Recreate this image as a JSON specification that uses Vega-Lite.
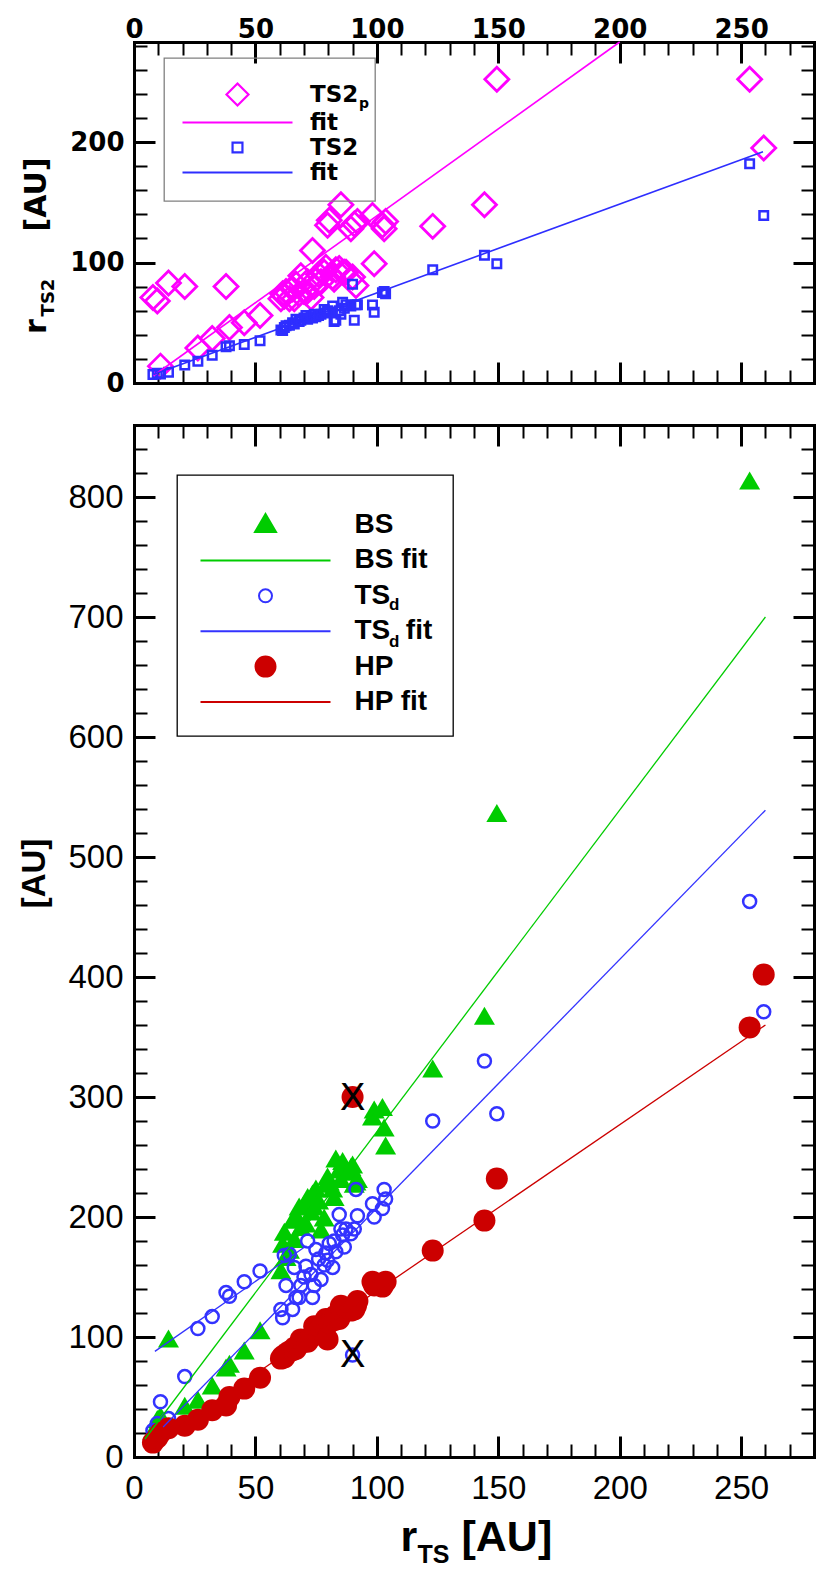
{
  "$schema": "https://vega.github.io/schema/vega-lite/v6.json",
  "background": "white",
  "padding": {"left": 18, "top": 16, "right": 5, "bottom": 5},
  "bounds": "flush",
  "spacing": 42,
  "config": {
    "view": {"stroke": null},
    "axis": {"grid": false, "tickColor": "black", "domainColor": "black", "labelColor": "black", "titleColor": "black", "labelOverlap": false, "labelFlush": false, "domainCap": "square"},
    "legend": {"labelColor": "black", "strokeWidth": 1.3}
  },
  "datasets": {
    "objs": [
      {"r": 7.8, "TS2": 7, "TS2p": 71, "BS": 20, "TSd": 22, "HP": 12},
      {"r": 9.6, "TS2": 8, "TS2p": 68, "BS": 30, "TSd": 28, "HP": 16},
      {"r": 10.9, "TS2": 7.5, "TS2p": 14, "BS": 33, "TSd": 46, "HP": 20},
      {"r": 14.2, "TS2": 9, "TS2p": 83, "BS": 97, "TSd": 32, "HP": 24},
      {"r": 20.9, "TS2": 15, "TS2p": 80, "BS": 41, "TSd": 67, "HP": 26},
      {"r": 26.3, "TS2": 18, "TS2p": 29, "BS": 46, "TSd": 107, "HP": 31},
      {"r": 32.2, "TS2": 23, "TS2p": 37, "BS": 58, "TSd": 117, "HP": 39},
      {"r": 37.9, "TS2": 30, "TS2p": 80, "BS": 73, "TSd": 137, "HP": 43},
      {"r": 39.3, "TS2": 31, "TS2p": 46, "BS": 76, "TSd": 134, "HP": 50},
      {"r": 45.4, "TS2": 32, "TS2p": 50, "BS": 87, "TSd": 146, "HP": 57},
      {"r": 51.9, "TS2": 35, "TS2p": 56, "BS": 104, "TSd": 155, "HP": 66},
      {"r": 60.5, "TS2": 44, "TS2p": 70, "BS": 154, "TSd": 123, "HP": 82},
      {"r": 61.2, "TS2": 43.5, "TS2p": 74, "BS": 176, "TSd": 116, "HP": 84},
      {"r": 61.9, "TS2": 46, "TS2p": 72, "BS": 186, "TSd": 168, "HP": 83},
      {"r": 62.6, "TS2": 47.6, "TS2p": 76, "BS": 165, "TSd": 143, "HP": 86},
      {"r": 64.0, "TS2": 48, "TS2p": 70, "BS": 171, "TSd": 169, "HP": 88},
      {"r": 65.3, "TS2": 50, "TS2p": 78, "BS": 196, "TSd": 123, "HP": 89},
      {"r": 66.0, "TS2": 49, "TS2p": 70, "BS": 180, "TSd": 158, "HP": 91},
      {"r": 66.7, "TS2": 53, "TS2p": 82, "BS": 200, "TSd": 133, "HP": 90},
      {"r": 68.0, "TS2": 51, "TS2p": 74, "BS": 207, "TSd": 133, "HP": 94},
      {"r": 68.7, "TS2": 52, "TS2p": 89, "BS": 190, "TSd": 143, "HP": 98},
      {"r": 70.0, "TS2": 54, "TS2p": 76, "BS": 209, "TSd": 150, "HP": 96},
      {"r": 70.8, "TS2": 56, "TS2p": 75, "BS": 193, "TSd": 159, "HP": 97},
      {"r": 71.5, "TS2": 53, "TS2p": 84, "BS": 215, "TSd": 180, "HP": 96},
      {"r": 72.9, "TS2": 55, "TS2p": 71, "BS": 203, "TSd": 152, "HP": 100},
      {"r": 73.5, "TS2": 54, "TS2p": 110, "BS": 218, "TSd": 133, "HP": 101},
      {"r": 74.2, "TS2": 57, "TS2p": 80, "BS": 207, "TSd": 143, "HP": 109},
      {"r": 74.9, "TS2": 55, "TS2p": 86, "BS": 222, "TSd": 173, "HP": 104},
      {"r": 76.0, "TS2": 56, "TS2p": 90, "BS": 212, "TSd": 165, "HP": 106},
      {"r": 77.0, "TS2": 57, "TS2p": 84, "BS": 188, "TSd": 148, "HP": 108},
      {"r": 78.3, "TS2": 61, "TS2p": 92, "BS": 198, "TSd": 160, "HP": 112},
      {"r": 79.0, "TS2": 58, "TS2p": 96, "BS": 226, "TSd": 170, "HP": 115},
      {"r": 79.7, "TS2": 60, "TS2p": 131, "BS": 232, "TSd": 164, "HP": 98},
      {"r": 80.4, "TS2": 59, "TS2p": 135, "BS": 228, "TSd": 178, "HP": 112},
      {"r": 81.8, "TS2": 64, "TS2p": 88, "BS": 222, "TSd": 158, "HP": 116},
      {"r": 82.4, "TS2": 51, "TS2p": 86, "BS": 215, "TSd": 180, "HP": 114},
      {"r": 83.1, "TS2": 52, "TS2p": 94, "BS": 247, "TSd": 171, "HP": 118},
      {"r": 84.5, "TS2": 60, "TS2p": 95, "BS": 238, "TSd": 202, "HP": 115},
      {"r": 85.2, "TS2": 57, "TS2p": 148, "BS": 230, "TSd": 190, "HP": 126},
      {"r": 85.9, "TS2": 67, "TS2p": 92, "BS": 245, "TSd": 185, "HP": 120},
      {"r": 86.6, "TS2": 62, "TS2p": 92, "BS": 241, "TSd": 175, "HP": 122},
      {"r": 87.3, "TS2": 65, "TS2p": 92, "BS": 236, "TSd": 190, "HP": 124},
      {"r": 89.3, "TS2": 64, "TS2p": 128, "BS": 240, "TSd": 186, "HP": 122},
      {"r": 90.0, "TS2": 82, "TS2p": 88, "BS": 242, "TSd": 85, "HP": 300},
      {"r": 90.7, "TS2": 52, "TS2p": 132, "BS": 226, "TSd": 190, "HP": 123},
      {"r": 91.4, "TS2": 65, "TS2p": 81, "BS": 228, "TSd": 223, "HP": 126},
      {"r": 92.0, "TS2": 65, "TS2p": 134, "BS": 230, "TSd": 201, "HP": 130},
      {"r": 98.2, "TS2": 64.7, "TS2p": 139, "BS": 282, "TSd": 211, "HP": 146},
      {"r": 98.9, "TS2": 58.7, "TS2p": 99, "BS": 288, "TSd": 200, "HP": 143},
      {"r": 102.3, "TS2": 75, "TS2p": 131, "BS": 290, "TSd": 207, "HP": 142},
      {"r": 103.0, "TS2": 76, "TS2p": 128, "BS": 273, "TSd": 223, "HP": 145},
      {"r": 103.6, "TS2": 74, "TS2p": 134, "BS": 258, "TSd": 215, "HP": 146},
      {"r": 123.0, "TS2": 94, "TS2p": 130, "BS": 322, "TSd": 280, "HP": 172},
      {"r": 144.3, "TS2": 106, "TS2p": 148, "BS": 366, "TSd": 330, "HP": 197},
      {"r": 149.4, "TS2": 99, "TS2p": 252, "BS": 535, "TSd": 286, "HP": 232},
      {"r": 253.5, "TS2": 182, "TS2p": 252, "BS": 812, "TSd": 463, "HP": 358},
      {"r": 259.3, "TS2": 139, "TS2p": 195, "TSd": 371, "HP": 402}
    ],
    "fits": [
      {"series": "TS2p fit", "seg": 1, "r": 8, "val": 6},
      {"series": "TS2p fit", "seg": 1, "r": 200, "val": 283},
      {"series": "TS2 fit", "seg": 1, "r": 8, "val": 7},
      {"series": "TS2 fit", "seg": 1, "r": 259, "val": 192},
      {"series": "BS fit", "seg": 1, "r": 4.5, "val": 15},
      {"series": "BS fit", "seg": 1, "r": 260, "val": 700},
      {"series": "TSd fit", "seg": 1, "r": 8.6, "val": 88},
      {"series": "TSd fit", "seg": 1, "r": 71, "val": 176},
      {"series": "TSd fit", "seg": 2, "r": 12, "val": 25},
      {"series": "TSd fit", "seg": 2, "r": 260, "val": 539},
      {"series": "HP fit", "seg": 1, "r": 8, "val": 11},
      {"series": "HP fit", "seg": 1, "r": 260, "val": 360}
    ],
    "xmarks": [
      {"r": 90, "val": 298},
      {"r": 90, "val": 84}
    ]
  },
  "resolve": {"scale": {"stroke": "independent", "fill": "independent", "shape": "independent", "opacity": "independent"}},
  "vconcat": [
    {
      "width": 680,
      "height": 341,
      "resolve": {"axis": {"x": "independent", "y": "independent"}},
      "layer": [
        {
          "data": {"name": "objs"},
          "transform": [{"fold": ["TS2p"], "as": ["series", "val"]}],
          "mark": {"type": "point", "filled": false, "opacity": 1, "size": 576, "strokeWidth": 2.8},
          "encoding": {
            "x": {"field": "r", "type": "quantitative", "scale": {"domain": [0, 280], "nice": false, "zero": false},
              "axis": {"orient": "top", "values": [0, 50, 100, 150, 200, 250], "tickSize": -21, "tickWidth": 3, "domainWidth": 3, "labelPadding": 21, "labelFont": "DejaVu Sans", "labelFontWeight": "bold", "labelFontSize": 26, "title": null}},
            "y": {"field": "val", "type": "quantitative", "scale": {"domain": [0, 283], "nice": false, "zero": false},
              "axis": {"orient": "left", "values": [0, 100, 200], "tickSize": -21, "tickWidth": 3, "domainWidth": 3, "labelPadding": 31, "labelFont": "DejaVu Sans", "labelFontWeight": "bold", "labelFontSize": 26,
                "title": "r", "titleFont": "DejaVu Sans", "titleFontWeight": "bold", "titleFontSize": 30, "titleAngle": 270, "titleAlign": "center", "titleBaseline": "alphabetic", "titleX": -89, "titleY": 284}},
            "stroke": {"field": "series", "type": "nominal",
              "scale": {"domain": ["TS2p", "TS2p fit", "TS2", "TS2 fit"], "range": ["#ff00ff", "#ff00ff", "#2e2eff", "#2e2eff"]},
              "legend": {"orient": "none", "legendX": 30, "legendY": 16, "padding": 16, "title": "\u00a0", "titleFontSize": 5, "titlePadding": 3, "strokeColor": "#808080", "rowPadding": 0,
                "symbolSize": 484, "symbolStrokeWidth": 2.2, "symbolOffset": 45, "symbolFillColor": "transparent", "labelOffset": 60,
                "labelFont": "DejaVu Sans", "labelFontWeight": "bold", "labelFontSize": 23,
                "labelExpr": "datum.label == 'TS2p' ? 'TS2\u00a0\u00a0' : (datum.label == 'TS2p fit' || datum.label == 'TS2 fit') ? '\u00a0fit' : datum.label"}},
            "shape": {"field": "series", "type": "nominal", "legend": {"title": "\u00a0"},
              "scale": {"domain": ["TS2p", "TS2p fit", "TS2", "TS2 fit"], "range": ["M-1,0L0,-1L1,0L0,1Z", "M-5,0H5", "M-0.45,-0.45H0.45V0.45H-0.45Z", "M-5,0H5"]}},
            "opacity": {"field": "series", "type": "nominal",
              "scale": {"type": "ordinal", "domain": ["TS2", "TS2 fit", "TS2p", "TS2p fit"], "range": [1, 1, 1, 1]},
              "legend": {"orient": "none", "legendX": 30, "legendY": 31, "padding": 16, "title": "\u00a0", "titleFontSize": 5, "titlePadding": 3, "rowPadding": 11, "symbolSize": 0, "symbolStrokeWidth": 0, "labelOffset": 165,
                "labelFont": "DejaVu Sans", "labelFontWeight": "bold", "labelFontSize": 14,
                "values": ["TS2p", "TS2p fit", "TS2", "TS2 fit"],
                "labelExpr": "datum.label == 'TS2p' ? 'p' : ''"}}
          }
        },
        {
          "data": {"name": "objs"},
          "transform": [{"fold": ["TS2"], "as": ["series", "val"]}],
          "mark": {"type": "point", "filled": false, "opacity": 1, "size": 356, "strokeWidth": 2.5},
          "encoding": {
            "x": {"field": "r", "type": "quantitative",
              "axis": {"orient": "top", "values": [10, 20, 30, 40, 60, 70, 80, 90, 110, 120, 130, 140, 160, 170, 180, 190, 210, 220, 230, 240, 260, 270], "tickSize": -13, "tickWidth": 2, "domain": false, "labels": false, "title": null}},
            "y": {"field": "val", "type": "quantitative",
              "axis": {"orient": "left", "values": [20, 40, 60, 80, 120, 140, 160, 180, 220, 240, 260, 280], "tickSize": -13, "tickWidth": 2, "domain": false, "labels": false,
                "title": "TS2", "titleFont": "DejaVu Sans", "titleFontWeight": "bold", "titleFontSize": 18, "titleAngle": 270, "titleAlign": "center", "titleBaseline": "alphabetic", "titleX": -81, "titleY": 255}},
            "stroke": {"field": "series", "type": "nominal", "legend": {"title": "\u00a0"}},
            "shape": {"field": "series", "type": "nominal", "legend": {"title": "\u00a0"}}
          }
        },
        {
          "data": {"name": "fits"},
          "transform": [{"filter": "datum.series == 'TS2p fit'"}],
          "mark": {"type": "line", "strokeWidth": 1.6},
          "encoding": {
            "x": {"field": "r", "type": "quantitative",
              "axis": {"orient": "bottom", "values": [0, 50, 100, 150, 200, 250], "tickSize": -21, "tickWidth": 3, "domainWidth": 3, "labels": false, "title": null}},
            "y": {"field": "val", "type": "quantitative",
              "axis": {"orient": "right", "values": [0, 100, 200], "tickSize": -21, "tickWidth": 3, "domainWidth": 3, "labels": false,
                "title": "[AU]", "titleFont": "DejaVu Sans", "titleFontWeight": "bold", "titleFontSize": 30, "titleAngle": 270, "titleAlign": "center", "titleBaseline": "alphabetic", "titleX": -769, "titleY": 152}},
            "stroke": {"field": "series", "type": "nominal", "legend": {"title": "\u00a0"}}
          }
        },
        {
          "data": {"name": "fits"},
          "transform": [{"filter": "datum.series == 'TS2 fit'"}],
          "mark": {"type": "line", "strokeWidth": 1.6},
          "encoding": {
            "x": {"field": "r", "type": "quantitative",
              "axis": {"orient": "bottom", "values": [10, 20, 30, 40, 60, 70, 80, 90, 110, 120, 130, 140, 160, 170, 180, 190, 210, 220, 230, 240, 260, 270], "tickSize": -13, "tickWidth": 2, "domain": false, "labels": false, "title": null}},
            "y": {"field": "val", "type": "quantitative",
              "axis": {"orient": "right", "values": [20, 40, 60, 80, 120, 140, 160, 180, 220, 240, 260, 280], "tickSize": -13, "tickWidth": 2, "domain": false, "labels": false, "title": null}},
            "stroke": {"field": "series", "type": "nominal", "legend": {"title": "\u00a0"}}
          }
        }
      ]
    },
    {
      "width": 680,
      "height": 1032,
      "resolve": {"axis": {"x": "independent", "y": "independent"}},
      "layer": [
        {
          "data": {"name": "objs"},
          "transform": [{"fold": ["BS"], "as": ["series", "val"]}],
          "mark": {"type": "point", "opacity": 1, "size": 400, "strokeWidth": 0},
          "encoding": {
            "x": {"field": "r", "type": "quantitative", "scale": {"domain": [0, 280], "nice": false, "zero": false},
              "axis": {"orient": "bottom", "values": [0, 50, 100, 150, 200, 250], "tickSize": -21, "tickWidth": 3, "domainWidth": 3, "labelPadding": 36, "labelFont": "Liberation Sans", "labelFontSize": 33,
                "title": "r", "titleFont": "Liberation Sans", "titleFontWeight": "bold", "titleFontSize": 43, "titleAlign": "left", "titleBaseline": "alphabetic", "titleX": 266, "titleY": 93}},
            "y": {"field": "val", "type": "quantitative", "scale": {"domain": [0, 860], "nice": false, "zero": false},
              "axis": {"orient": "left", "values": [0, 100, 200, 300, 400, 500, 600, 700, 800], "tickSize": -21, "tickWidth": 3, "domainWidth": 3, "labelPadding": 32, "labelFont": "Liberation Sans", "labelFontSize": 33,
                "title": "[AU]", "titleFont": "Liberation Sans", "titleFontWeight": "bold", "titleFontSize": 33, "titleAngle": 270, "titleAlign": "center", "titleBaseline": "alphabetic", "titleX": -90, "titleY": 448}},
            "stroke": {"field": "series", "type": "nominal",
              "scale": {"domain": ["BS", "BS fit", "TSd", "TSd fit", "HP", "HP fit"], "range": ["#00cc00", "#00cc00", "#3333ff", "#3333ff", "#cc0000", "#cc0000"]},
              "legend": {"orient": "none", "legendX": 43, "legendY": 50, "padding": 20, "title": "\u00a0", "titleFontSize": 8, "titlePadding": 8, "strokeColor": "black", "rowPadding": 7.4,
                "symbolSize": 400, "symbolStrokeWidth": 2, "symbolOffset": 54.5, "labelOffset": 75,
                "labelFont": "Liberation Sans", "labelFontWeight": "bold", "labelFontSize": 28,
                "labelExpr": "datum.label == 'TSd' ? 'TS' : datum.label == 'TSd fit' ? 'TS\u00a0\u00a0fit' : datum.label"}},
            "fill": {"field": "series", "type": "nominal", "legend": {"title": "\u00a0"},
              "scale": {"domain": ["BS", "BS fit", "TSd", "TSd fit", "HP", "HP fit"], "range": ["#00cc00", "transparent", "transparent", "transparent", "#cc0000", "transparent"]}},
            "shape": {"field": "series", "type": "nominal", "legend": {"title": "\u00a0"},
              "scale": {"domain": ["BS", "BS fit", "TSd", "TSd fit", "HP", "HP fit"], "range": ["M0,-1.1L1.05,0.7L-1.05,0.7Z", "M-6.5,0H6.5", "M0.65,0A0.65,0.65,0,1,1,-0.65,0A0.65,0.65,0,1,1,0.65,0Z", "M-6.5,0H6.5", "circle", "M-6.5,0H6.5"]}},
            "opacity": {"field": "series", "type": "nominal",
              "scale": {"type": "ordinal", "domain": ["HP", "HP fit", "BS", "BS fit", "TSd", "TSd fit"], "range": [1, 1, 1, 1, 1, 1]},
              "legend": {"orient": "none", "legendX": 43, "legendY": 63, "padding": 20, "title": "\u00a0", "titleFontSize": 8, "titlePadding": 8, "rowPadding": 18.4, "symbolSize": 0, "symbolStrokeWidth": 0, "labelOffset": 175,
                "labelFont": "Liberation Sans", "labelFontWeight": "bold", "labelFontSize": 17,
                "values": ["BS", "BS fit", "TSd", "TSd fit", "HP", "HP fit"],
                "labelExpr": "(datum.label == 'TSd' || datum.label == 'TSd fit') ? 'd' : ''"}}
          }
        },
        {
          "data": {"name": "objs"},
          "transform": [{"fold": ["TSd"], "as": ["series", "val"]}],
          "mark": {"type": "point", "opacity": 1, "size": 400, "strokeWidth": 2.5},
          "encoding": {
            "x": {"field": "r", "type": "quantitative",
              "axis": {"orient": "bottom", "values": [10, 20, 30, 40, 60, 70, 80, 90, 110, 120, 130, 140, 160, 170, 180, 190, 210, 220, 230, 240, 260, 270], "tickSize": -13, "tickWidth": 2, "domain": false, "labels": false,
                "title": "TS", "titleFont": "Liberation Sans", "titleFontWeight": "bold", "titleFontSize": 25, "titleAlign": "left", "titleBaseline": "alphabetic", "titleX": 283, "titleY": 105}},
            "y": {"field": "val", "type": "quantitative",
              "axis": {"orient": "left", "values": [20, 40, 60, 80, 120, 140, 160, 180, 220, 240, 260, 280, 320, 340, 360, 380, 420, 440, 460, 480, 520, 540, 560, 580, 620, 640, 660, 680, 720, 740, 760, 780, 820, 840], "tickSize": -13, "tickWidth": 2, "domain": false, "labels": false, "title": null}},
            "stroke": {"field": "series", "type": "nominal", "legend": {"title": "\u00a0"}},
            "fill": {"field": "series", "type": "nominal", "legend": {"title": "\u00a0"}},
            "shape": {"field": "series", "type": "nominal", "legend": {"title": "\u00a0"}}
          }
        },
        {
          "data": {"name": "objs"},
          "transform": [{"fold": ["HP"], "as": ["series", "val"]}],
          "mark": {"type": "point", "opacity": 1, "size": 484, "strokeWidth": 0},
          "encoding": {
            "x": {"field": "r", "type": "quantitative",
              "axis": {"orient": "top", "values": [0, 50, 100, 150, 200, 250], "tickSize": -21, "tickWidth": 3, "domainWidth": 3, "labels": false,
                "title": "[AU]", "titleFont": "Liberation Sans", "titleFontWeight": "bold", "titleFontSize": 43, "titleAlign": "left", "titleBaseline": "alphabetic", "titleX": 327, "titleY": 1125}},
            "y": {"field": "val", "type": "quantitative",
              "axis": {"orient": "right", "values": [0, 100, 200, 300, 400, 500, 600, 700, 800], "tickSize": -21, "tickWidth": 3, "domainWidth": 3, "labels": false, "title": null}},
            "stroke": {"field": "series", "type": "nominal", "legend": {"title": "\u00a0"}},
            "fill": {"field": "series", "type": "nominal", "legend": {"title": "\u00a0"}},
            "shape": {"field": "series", "type": "nominal", "legend": {"title": "\u00a0"}}
          }
        },
        {
          "data": {"name": "fits"},
          "transform": [{"filter": {"field": "series", "oneOf": ["BS fit", "TSd fit", "HP fit"]}}],
          "mark": {"type": "line", "strokeWidth": 1.3},
          "encoding": {
            "x": {"field": "r", "type": "quantitative",
              "axis": {"orient": "top", "values": [10, 20, 30, 40, 60, 70, 80, 90, 110, 120, 130, 140, 160, 170, 180, 190, 210, 220, 230, 240, 260, 270], "tickSize": -13, "tickWidth": 2, "domain": false, "labels": false, "title": null}},
            "y": {"field": "val", "type": "quantitative",
              "axis": {"orient": "right", "values": [20, 40, 60, 80, 120, 140, 160, 180, 220, 240, 260, 280, 320, 340, 360, 380, 420, 440, 460, 480, 520, 540, 560, 580, 620, 640, 660, 680, 720, 740, 760, 780, 820, 840], "tickSize": -13, "tickWidth": 2, "domain": false, "labels": false, "title": null}},
            "stroke": {"field": "series", "type": "nominal", "legend": {"title": "\u00a0"}},
            "detail": {"field": "seg", "type": "nominal"}
          }
        },
        {
          "data": {"name": "xmarks"},
          "mark": {"type": "text", "text": "X", "font": "Liberation Sans", "fontSize": 38, "color": "black", "baseline": "middle", "align": "center"},
          "encoding": {
            "x": {"field": "r", "type": "quantitative", "axis": null},
            "y": {"field": "val", "type": "quantitative", "axis": null}
          }
        }
      ]
    }
  ]
}
